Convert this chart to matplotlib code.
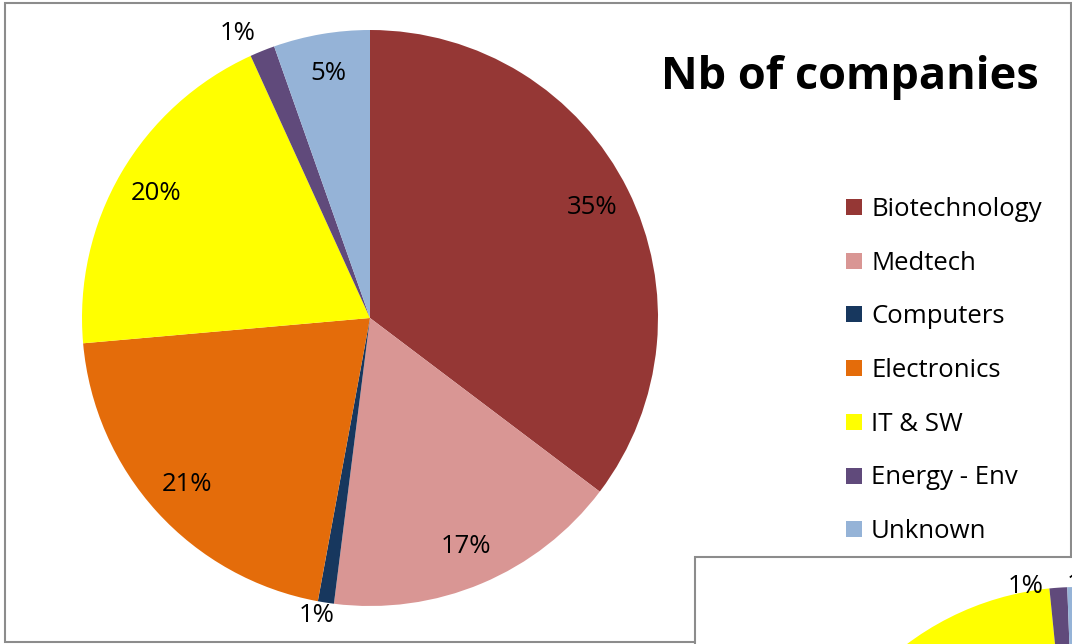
import matplotlib.pyplot as plt
from matplotlib.patches import Rectangle
import numpy as np

plt.rcParams['font.family'] = ['Open Sans', 'DejaVu Sans']

sectors = ["Biotechnology", "Medtech", "Computers", "Electronics",
           "IT & SW", "Energy - Env", "Unknown"]
colors = ["#953735", "#D99694", "#17375E", "#E46C0A",
          "#FFFF00", "#604A7B", "#95B3D7"]
companies_pct = [35.3, 16.7, 0.9, 20.7, 19.6, 1.4, 5.4]
# next chart on the sheet, only its top edge shows in the corner
second_pct = [38.0, 14.0, 1.0, 22.0, 23.4, 1.0, 0.6]

W, H = 1072, 644
fig = plt.figure(figsize=(W / 100, H / 100), dpi=100)
ax = fig.add_axes([0, 0, 1, 1])


def pct_label(p):
    return f"{p:.0f}%"


def move_label(txt, wedge, factor, shift=0.0):
    ang = np.deg2rad((wedge.theta1 + wedge.theta2) / 2 + shift)
    cx, cy = wedge.center
    r = wedge.r * factor
    txt.set_position((cx + r * np.cos(ang), cy + r * np.sin(ang)))


# chart frames
ax.add_patch(Rectangle((5, 2), 1066, 639, facecolor='white',
                       edgecolor='#8c8c8c', linewidth=1.5, zorder=0))
ax.add_patch(Rectangle((695, -20), 420, 107, facecolor='white',
                       edgecolor='#8c8c8c', linewidth=1.5, zorder=0.5))

wedges, _, autotexts = ax.pie(
    companies_pct, colors=colors, startangle=90, counterclock=False,
    center=(370, 326), radius=288, autopct=pct_label, pctdistance=0.86,
    textprops=dict(fontsize=18.5, color='black'),
    wedgeprops=dict(linewidth=0))

# small slices get their labels outside the pie
outside = {"Computers": (1.05, -1.3), "Energy - Env": (1.09, 3.0)}
for name, w, t in zip(sectors, wedges, autotexts):
    if name in outside:
        move_label(t, w, *outside[name])

wedges2, _, autotexts2 = ax.pie(
    second_pct, colors=colors, startangle=90, counterclock=False,
    center=(1078, -228), radius=285, autopct=pct_label,
    textprops=dict(fontsize=18.5, color='black'),
    wedgeprops=dict(linewidth=0))
outside2 = {"Energy - Env": (1.02, 6.5), "Unknown": (1.01, -2.5)}
for name, w, t in zip(sectors, wedges2, autotexts2):
    if name in outside2:
        move_label(t, w, *outside2[name])
    else:
        t.set_visible(False)

ax.text(850, H - 77, "Nb of companies", fontsize=32.5, fontweight='bold',
        ha='center', va='center')

# legend
for i, (name, col) in enumerate(zip(sectors, colors)):
    y = H - (207 + i * 53.7)
    ax.add_patch(Rectangle((846, y - 8), 16, 16, facecolor=col,
                           edgecolor='none'))
    ax.text(871, y - 9, name, fontsize=18.5, va='baseline', ha='left')

ax.set_xlim(0, W)
ax.set_ylim(0, H)
ax.set_aspect('equal')
ax.axis('off')

fig.savefig("out.png", dpi=100)
